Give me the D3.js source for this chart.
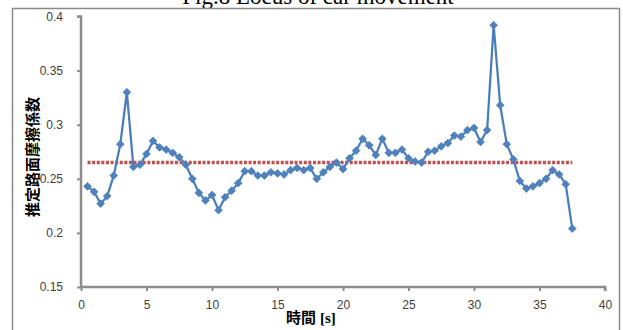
<!DOCTYPE html>
<html>
<head>
<meta charset="utf-8">
<script src="https://cdn.jsdelivr.net/npm/d3@7"></script>
<style>
  html, body { margin: 0; padding: 0; background: #fff; }
  svg { display: block; }
</style>
</head>
<body>
<script>
// ---- data ----
const times = [0.5,1.0,1.5,2.0,2.5,3.0,3.5,4.0,4.5,5.0,5.5,6.0,6.5,7.0,7.5,8.0,8.5,9.0,9.5,10.0,
  10.5,11.0,11.5,12.0,12.5,13.0,13.5,14.0,14.5,15.0,15.5,16.0,16.5,17.0,17.5,18.0,18.5,19.0,19.5,20.0,
  20.5,21.0,21.5,22.0,22.5,23.0,23.5,24.0,24.5,25.0,25.5,26.0,26.5,27.0,27.5,28.0,28.5,29.0,29.5,30.0,
  30.5,31.0,31.5,32.0,32.5,33.0,33.5,34.0,34.5,35.0,35.5,36.0,36.5,37.0,37.5];
const friction = [0.243,0.238,0.227,0.234,0.253,0.282,0.330,0.261,0.263,0.273,0.285,0.279,0.277,0.274,0.270,0.263,0.250,0.237,0.230,0.235,
  0.221,0.233,0.239,0.246,0.257,0.257,0.253,0.253,0.256,0.255,0.254,0.258,0.260,0.258,0.260,0.250,0.256,0.261,0.265,0.259,
  0.269,0.276,0.287,0.281,0.272,0.287,0.274,0.274,0.277,0.269,0.266,0.265,0.275,0.276,0.280,0.283,0.290,0.289,0.295,0.297,
  0.284,0.295,0.392,0.318,0.282,0.268,0.248,0.241,0.243,0.246,0.250,0.258,0.254,0.245,0.204];
const meanTimes = [0.5, 37.5];
const meanValues = [0.265, 0.265];
const xTicks = [0,5,10,15,20,25,30,35,40];
const yTicks = [0.15,0.2,0.25,0.3,0.35,0.4];
const yTickLabels = ["0.15","0.2","0.25","0.3","0.35","0.4"];
const titleText = "Fig.8 Locus of car movement";
const yTitle = "推定路面摩擦係数";
const xTitleMain = "時間";
const xTitleUnit = "[s]";

// ---- drawing ----
const W = 623, H = 330;
const svg = d3.select("body").append("svg").attr("width", W).attr("height", H);
svg.append("rect").attr("width", W).attr("height", H).attr("fill", "#fff");

const x = d3.scaleLinear().domain([0, 40]).range([81, 605]);
const y = d3.scaleLinear().domain([0.15, 0.4]).range([287, 16.5]);

// title (clipped at top)
svg.append("text")
  .attr("x", 318).attr("y", 3.5)
  .attr("text-anchor", "middle")
  .attr("font-family", "'Liberation Serif', 'Times New Roman', serif")
  .attr("font-size", 23)
  .attr("fill", "#000")
  .text(titleText);

// outer frame
svg.append("rect")
  .attr("x", 12.5).attr("y", 8.5).attr("width", 607).attr("height", 340)
  .attr("fill", "none").attr("stroke", "#8a8a8a").attr("stroke-width", 1.5);

const axisColor = "#8c8c8c";
const labelColor = "#404040";
const tickFont = "'Liberation Sans', Arial, sans-serif";

// y axis
const gy = svg.append("g").attr("transform", "translate(81,0)")
  .call(d3.axisLeft(y).tickValues(yTicks).tickSize(4).tickPadding(14)
    .tickFormat((d, i) => yTickLabels[i]));
gy.select(".domain").attr("stroke", axisColor).attr("stroke-width", 2.5)
  .attr("d", `M-4,${y(0.4)}H0V${y(0.15)}`);
gy.selectAll(".tick line").attr("stroke", axisColor).attr("stroke-width", 2);
gy.selectAll(".tick text").attr("fill", labelColor).attr("font-size", 12)
  .attr("font-family", tickFont);

// x axis
const gx = svg.append("g").attr("transform", "translate(0,287)")
  .call(d3.axisBottom(x).tickValues(xTicks).tickSize(4).tickPadding(9));
gx.select(".domain").attr("stroke", axisColor).attr("stroke-width", 2.5)
  .attr("d", `M${x(0)},0H${x(40)}V4`);
gx.selectAll(".tick line").attr("stroke", axisColor).attr("stroke-width", 2);
gx.selectAll(".tick text").attr("fill", labelColor).attr("font-size", 12)
  .attr("font-family", tickFont);

// mean (red dotted) line
const meanData = meanTimes.map((t, i) => [t, meanValues[i]]);
svg.append("path")
  .datum(meanData)
  .attr("d", d3.line().x(d => x(d[0])).y(d => y(d[1])))
  .attr("fill", "none")
  .attr("stroke", "#c0504d")
  .attr("stroke-width", 3.5)
  .attr("stroke-dasharray", "3,1.6");

// data line
const pts = times.map((t, i) => [t, friction[i]]);
svg.append("path")
  .datum(pts)
  .attr("d", d3.line().x(d => x(d[0])).y(d => y(d[1])))
  .attr("fill", "none")
  .attr("stroke", "#4a7ebb")
  .attr("stroke-width", 2.25)
  .attr("stroke-linejoin", "round");

// diamond markers
const sym = d3.symbol().type(d3.symbolSquare).size(30);
svg.append("g").selectAll("path")
  .data(pts).join("path")
  .attr("d", sym)
  .attr("transform", d => `translate(${x(d[0])},${y(d[1])}) rotate(45)`)
  .attr("fill", "#4f81bd")
  .attr("stroke", "#4f81bd")
  .attr("stroke-width", 0.8);

// y title
svg.append("text")
  .attr("transform", "translate(31,157) rotate(-90)")
  .attr("text-anchor", "middle")
  .attr("dominant-baseline", "central")
  .attr("font-family", "'Noto Sans CJK JP', sans-serif")
  .attr("font-weight", "bold")
  .attr("font-size", 15)
  .attr("fill", "#000")
  .text(yTitle);

// x title
const xt = svg.append("text")
  .attr("x", 286).attr("y", 323)
  .attr("font-weight", "bold")
  .attr("font-size", 15)
  .attr("fill", "#000");
xt.append("tspan").attr("font-family", "'Noto Sans CJK JP', sans-serif").text(xTitleMain);
xt.append("tspan").attr("font-family", "'Liberation Serif', serif").attr("dx", 4).text(xTitleUnit);
</script>
</body>
</html>
